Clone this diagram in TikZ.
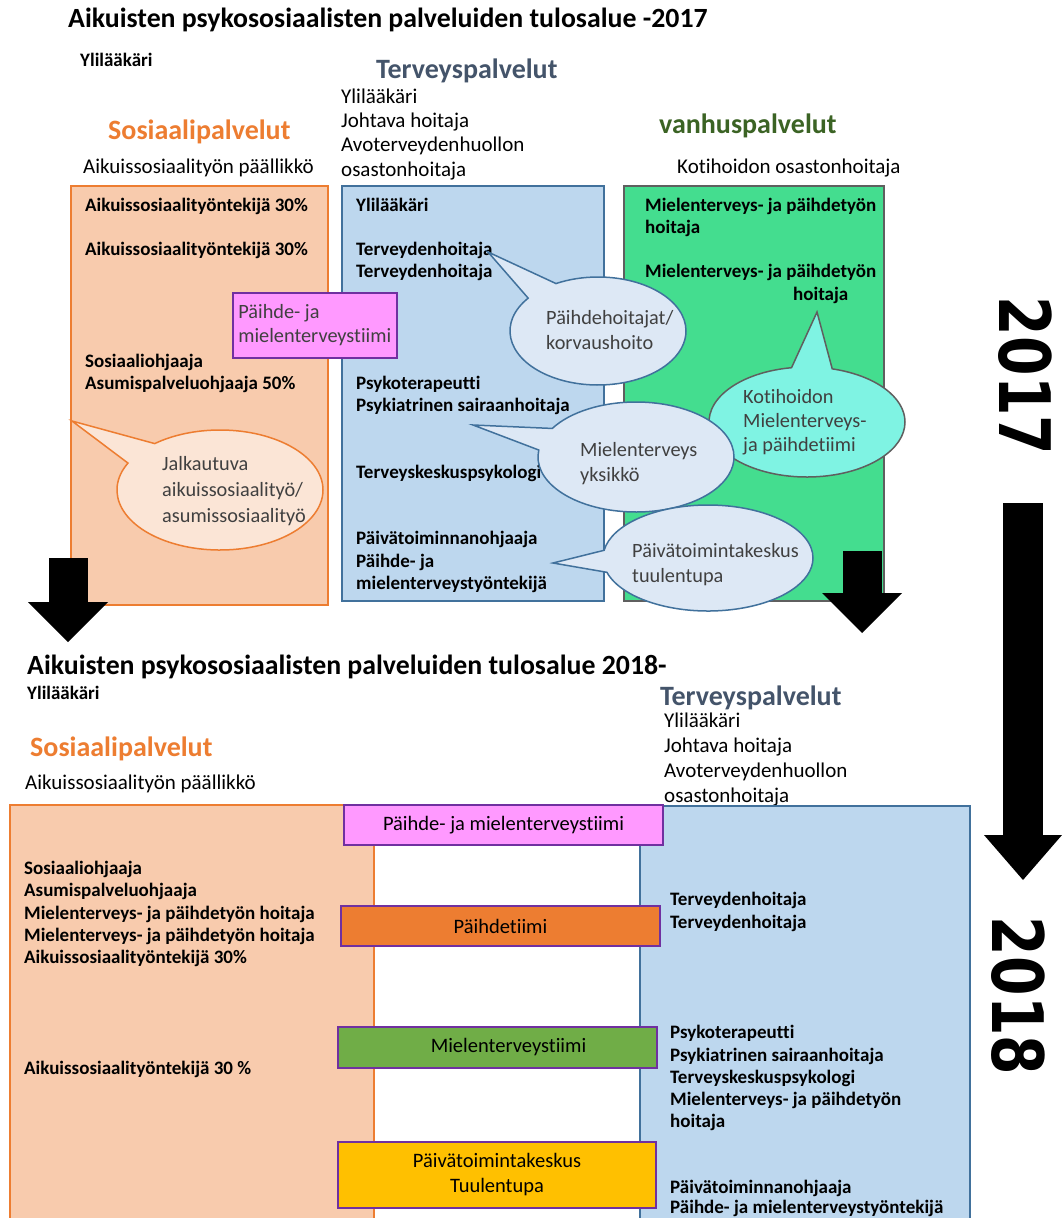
\documentclass[tikz,border=0pt]{standalone}
\usepackage{fontspec}
\setmainfont{Carlito}[Ligatures=NoCommon]
\newfontfamily\yearfont{DejaVu Sans}
\usetikzlibrary{shapes.callouts,arrows.meta}

\definecolor{orangeFill}{HTML}{F8CBAD}
\definecolor{orangeLine}{HTML}{ED7D31}
\definecolor{blueFill}{HTML}{BDD7EE}
\definecolor{blueLine}{HTML}{41719C}
\definecolor{greenFill}{HTML}{44DD8F}
\definecolor{grayLine}{HTML}{5F5F5F}
\definecolor{pinkFill}{HTML}{FF99FF}
\definecolor{purpleLine}{HTML}{7030A0}
\definecolor{bubbleBlue}{HTML}{DDE8F5}
\definecolor{bubblePeach}{HTML}{FBE5D6}
\definecolor{bubbleCyan}{HTML}{7FF3E3}
\definecolor{slate}{HTML}{44546A}
\definecolor{darkGreen}{HTML}{3B6324}
\definecolor{bubbleText}{HTML}{404040}
\definecolor{teamOrange}{HTML}{ED7D31}
\definecolor{teamGreen}{HTML}{70AD47}
\definecolor{teamGold}{HTML}{FFC000}

\tikzset{
  txt/.style={inner sep=0pt, anchor=mid west, yshift=-5pt, font=\fontsize{21}{25}\selectfont},
  itm/.style={inner sep=0pt, anchor=mid west, yshift=-4.5pt, font=\fontsize{19}{22}\selectfont\bfseries},
  ttl/.style={inner sep=0pt, anchor=mid west, yshift=-5pt, font=\fontsize{27.8}{32}\selectfont\bfseries},
  hdr/.style={inner sep=0pt, anchor=mid west, yshift=-6pt, font=\fontsize{28}{32}\selectfont\bfseries},
  area/.style={draw, line width=1.5pt, inner sep=0pt, anchor=north west},
  bar/.style={draw=purpleLine, line width=2pt, inner sep=0pt, anchor=north west,
    align=center, font=\fontsize{20.5}{25}\selectfont},
  bubble/.style={ellipse callout, callout pointer arc=24, inner sep=0pt,
    line width=1.5pt, draw=blueLine, fill=bubbleBlue},
  btxt/.style={inner sep=0pt, anchor=mid west, yshift=-4pt,
    font=\fontsize{20.3}{24}\selectfont, text=bubbleText},
  bigarrow/.style={line width=40pt,
    -{Triangle[length=45pt, width=78pt, line width=0pt]}},
  smallarrow/.style={line width=39pt,
    -{Triangle[length=40pt, width=80pt, line width=0pt]}},
  year/.style={font=\yearfont\bfseries\fontsize{71}{71}\selectfont,
    rotate=-90, xscale=0.8, inner sep=0pt}
}

\begin{document}
\begin{tikzpicture}[x=1pt,y=-1pt]
\fill[white] (0,0) rectangle (1062,1218);
\useasboundingbox (0,0) rectangle (1062,1218);

% ---------- 2017 organisation ----------
\node[ttl] (ttl17) at (68,20) {Aikuisten psykososiaalisten palveluiden tulosalue -2017};
\node[itm] (chief17) at (80,60) {Ylilääkäri};

\node[hdr, text=slate] (terH17) at (376,70) {Terveyspalvelut};
\foreach \t [count=\i] in {Ylilääkäri, Johtava hoitaja, Avoterveydenhuollon, osastonhoitaja}
  \node[txt] (terL17\i) at (341, {96+(\i-1)*24.3}) {\t};

\node[hdr, text=orangeLine] (sosH17) at (108,131) {Sosiaalipalvelut};
\node[txt] (sosL17) at (83,166) {Aikuissosiaalityön päällikkö};

\node[hdr, text=darkGreen] (vanH17) at (659,125) {vanhuspalvelut};
\node[txt] (vanL17) at (677,166) {Kotihoidon osastonhoitaja};

% unit boxes
\node[area, draw=orangeLine, fill=orangeFill, minimum width=257pt, minimum height=419pt] (sos17) at (70,185) {};
\node[area, draw=blueLine, fill=blueFill, minimum width=262pt, minimum height=415pt] (ter17) at (341,185) {};
\node[area, draw=grayLine, fill=greenFill, minimum width=260pt, minimum height=415pt] (van17) at (623,185) {};

% staff in the social services box
\foreach \t/\y in {Aikuissosiaalityöntekijä 30\%/205, Aikuissosiaalityöntekijä 30\%/249,
                   Sosiaaliohjaaja/361, Asumispalveluohjaaja 50\%/383}
  \node[itm] (sosI17\y) at (85,\y) {\t};

% staff in the health services box
\foreach \t/\y in {Ylilääkäri/205, Terveydenhoitaja/249, Terveydenhoitaja/271,
                   Psykoterapeutti/383, Psykiatrinen sairaanhoitaja/405,
                   Terveyskeskuspsykologi/472, Päivätoiminnanohjaaja/538,
                   Päihde- ja/561, mielenterveystyöntekijä/583}
  \node[itm] (terI17\y) at (356,\y) {\t};

% staff in the elderly services box
\node[itm] (vanI17a) at (645,205) {Mielenterveys- ja päihdetyön};
\node[itm] (vanI17b) at (645,227) {hoitaja};
\node[itm] (vanI17c) at (645,271) {Mielenterveys- ja päihdetyön};
\node[itm] (vanI17d) at (793,294) {hoitaja};

% team box across social and health services
\node[area, draw=purpleLine, fill=pinkFill, minimum width=164pt, minimum height=65pt,
      align=left, text=bubbleText, font=\fontsize{20.3}{24}\selectfont] (team17) at (232,292)
      {Päihde- ja\\mielenterveystiimi};

% speech bubbles
\node[bubble, minimum width=176pt, minimum height=108pt,
      callout absolute pointer={(488,252)}] (bPh) at (598,331) {};
\foreach \t [count=\i] in {Päihdehoitajat/, korvaushoito}
  \node[btxt] (bPhT\i) at (546, {318+(\i-1)*25}) {\t};

\node[bubble, draw=grayLine, fill=bubbleCyan, minimum width=196pt, minimum height=110pt,
      callout absolute pointer={(817,312)}] (bKh) at (807,422) {};
\foreach \t [count=\i] in {Kotihoidon, Mielenterveys-, ja päihdetiimi}
  \node[btxt] (bKhT\i) at (743, {397+(\i-1)*24}) {\t};

\node[bubble, minimum width=196pt, minimum height=110pt,
      callout absolute pointer={(473,425)}] (bMt) at (636,457) {};
\foreach \t [count=\i] in {Mielenterveys, yksikkö}
  \node[btxt] (bMtT\i) at (580, {450+(\i-1)*25}) {\t};

\node[bubble, minimum width=210pt, minimum height=106pt,
      callout absolute pointer={(553,563)}] (bPv) at (708,558) {};
\foreach \t [count=\i] in {Päivätoimintakeskus, tuulentupa}
  \node[btxt] (bPvT\i) at (632, {551+(\i-1)*25}) {\t};

\node[bubble, draw=orangeLine, fill=bubblePeach, minimum width=206pt, minimum height=120pt,
      callout absolute pointer={(72,421)}] (bJa) at (220,490) {};
\foreach \t [count=\i] in {Jalkautuva, aikuissosiaalityö/, asumissosiaalityö}
  \node[btxt] (bJaT\i) at (162, {464+(\i-1)*26}) {\t};

% transition arrows under the 2017 boxes
\coordinate (sosDownA) at (68,558);
\coordinate (sosDownB) at (68,642);
\draw[smallarrow] (sosDownA) -- (sosDownB);
\coordinate (vanDownA) at (862,551);
\coordinate (vanDownB) at (862,633);
\draw[smallarrow] (vanDownA) -- (vanDownB);

% ---------- 2018 organisation ----------
\node[ttl] (ttl18) at (27,667) {Aikuisten psykososiaalisten palveluiden tulosalue 2018-};
\node[itm] (chief18) at (27,693) {Ylilääkäri};

\node[hdr, text=orangeLine] (sosH18) at (30,748) {Sosiaalipalvelut};
\node[txt] (sosL18) at (25,782) {Aikuissosiaalityön päällikkö};

\node[hdr, text=slate] (terH18) at (660,697) {Terveyspalvelut};
\foreach \t [count=\i] in {Ylilääkäri, Johtava hoitaja, Avoterveydenhuollon, osastonhoitaja}
  \node[txt] (terL18\i) at (664, {720+(\i-1)*25}) {\t};

\node[area, draw=orangeLine, fill=orangeFill, minimum width=364pt, minimum height=420pt] (sos18) at (9,804) {};
\node[area, draw=blueLine, fill=blueFill, minimum width=330pt, minimum height=420pt] (ter18) at (639,805) {};

\foreach \t/\y in {Sosiaaliohjaaja/868, Asumispalveluohjaaja/890,
                   Mielenterveys- ja päihdetyön hoitaja/913,
                   Mielenterveys- ja päihdetyön hoitaja/935,
                   Aikuissosiaalityöntekijä 30\%/957, Aikuissosiaalityöntekijä 30 \%/1068}
  \node[itm] (sosI18\y) at (24,\y) {\t};

\foreach \t/\y in {Terveydenhoitaja/899, Terveydenhoitaja/922, Psykoterapeutti/1032,
                   Psykiatrinen sairaanhoitaja/1055, Terveyskeskuspsykologi/1077,
                   Mielenterveys- ja päihdetyön/1099, hoitaja/1121,
                   Päivätoiminnanohjaaja/1187, Päihde- ja mielenterveystyöntekijä/1207}
  \node[itm] (terI18\y) at (670,\y) {\t};

% shared teams
\node[bar, fill=pinkFill, minimum width=319pt, minimum height=40pt] (team18) at (343,804)
      {Päihde- ja mielenterveystiimi};
\node[bar, fill=teamOrange, minimum width=319pt, minimum height=40pt] (subst18) at (340,905)
      {Päihdetiimi};
\node[bar, fill=teamGreen, minimum width=319pt, minimum height=41pt] (mental18) at (337,1026)
      {\hspace*{22pt}Mielenterveystiimi};
\node[bar, fill=teamGold, minimum width=318pt, minimum height=66pt] (day18) at (337,1141)
      {Päivätoimintakeskus\\Tuulentupa};

% ---------- year change ----------
\node[year] (y17) at (1025,376) {2017};
\node[year] (y18) at (1018,996) {2018};
\coordinate (yearA) at (1023,503);
\coordinate (yearB) at (1023,880);
\draw[bigarrow] (yearA) -- (yearB);

\end{tikzpicture}
\end{document}
